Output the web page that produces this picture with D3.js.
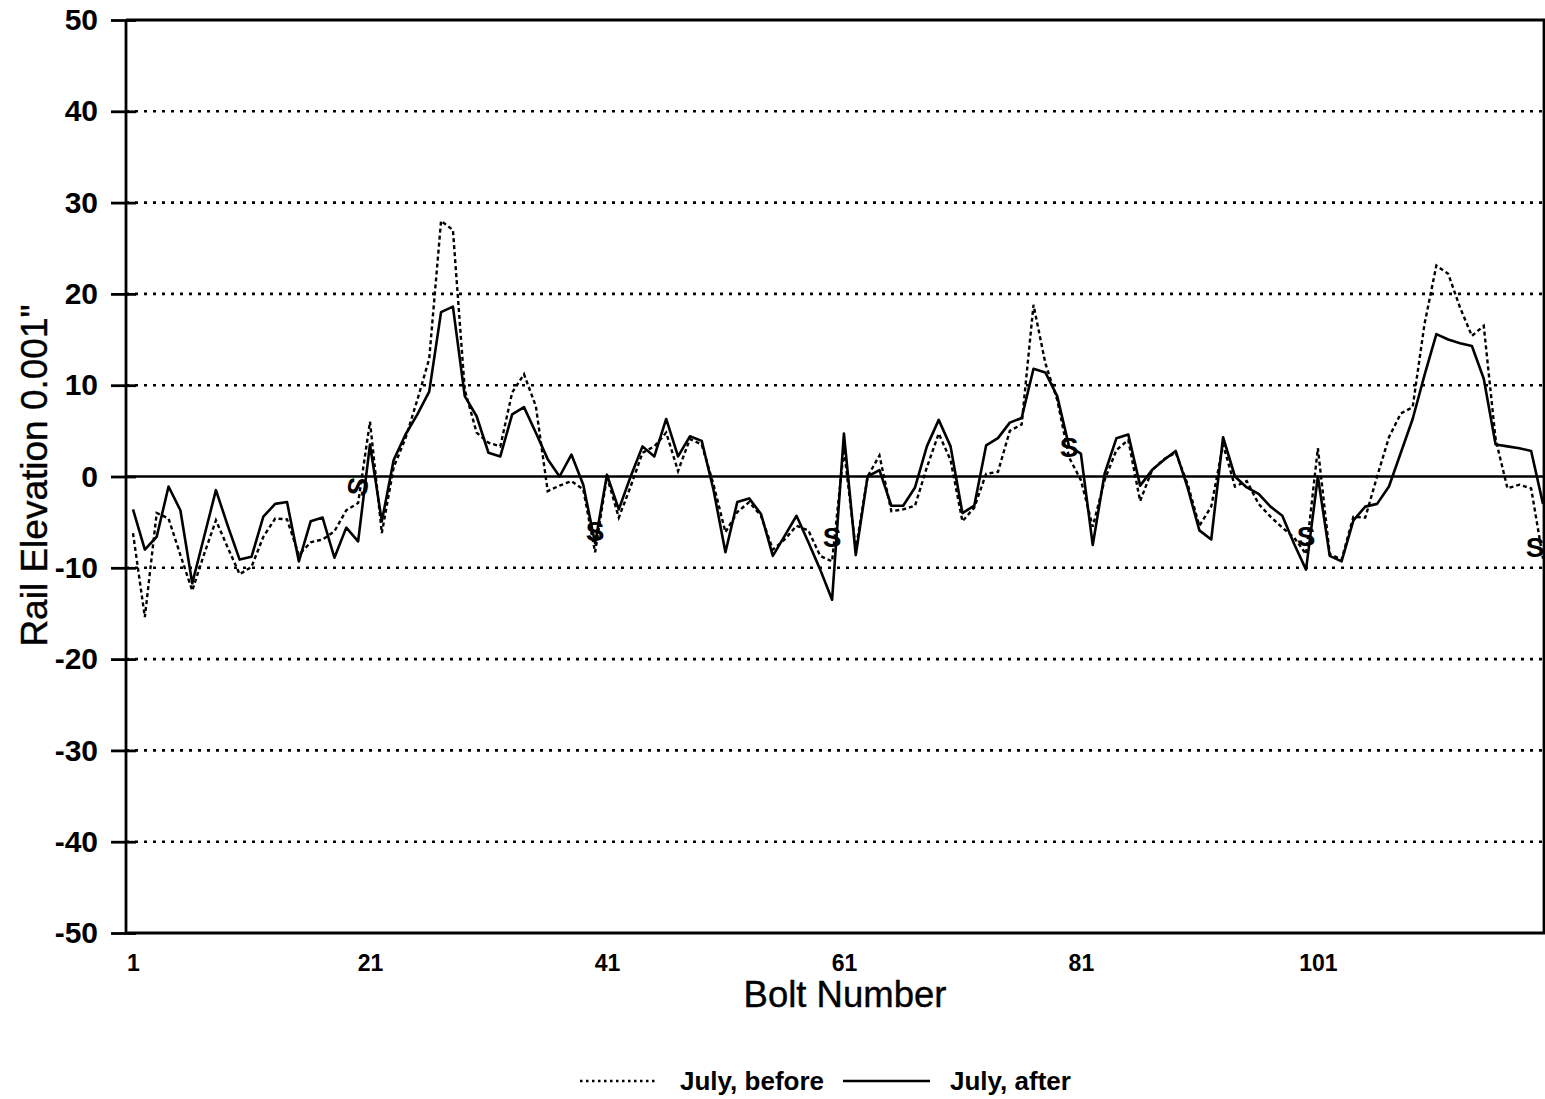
<!DOCTYPE html>
<html>
<head>
<meta charset="utf-8">
<script src="https://cdn.jsdelivr.net/npm/d3@7"></script>
<style>
  body { margin: 0; background: #fff; }
  svg { display: block; font-family: Arial, "Liberation Sans", sans-serif; }
</style>
</head>
<body>
<div class="canvas"></div>
<script>
// Bolt numbers along the rail
const bolts = d3.range(1, 121);

// Rail elevation (0.001"), one value per bolt
const julyBefore = [
  -6.2, -15.4, -4.0, -4.6, -8.6, -12.5, -8.5, -4.8, -7.8, -10.7,
  -9.9, -6.6, -4.6, -4.7, -8.6, -7.2, -6.9, -6.0, -3.7, -2.9,
  6.0, -6.2, 1.0, 4.2, 8.4, 12.9, 28.0, 27.0, 9.5, 4.8,
  3.7, 3.3, 9.2, 11.2, 7.7, -1.6, -1.0, -0.5, -1.4, -8.3,
  0.0, -4.5, -1.1, 2.6, 3.3, 4.8, 0.6, 4.1, 3.5, -0.9,
  -6.1, -3.9, -2.8, -4.3, -8.0, -6.9, -5.4, -5.9, -8.7, -9.3,
  3.0, -8.0, 0.0, 2.3, -3.8, -3.6, -3.2, 1.0, 4.7, 1.8,
  -4.9, -3.4, 0.3, 0.5, 5.0, 5.7, 18.8, 12.4, 8.4, 2.1,
  -0.4, -5.5, -0.4, 2.9, 4.0, -2.7, 0.7, 1.9, 2.6, -0.8,
  -5.4, -3.3, 3.5, -1.1, -0.5, -3.0, -4.4, -5.6, -6.7, -8.5,
  3.1, -8.5, -9.1, -4.4, -4.5, 0.0, 4.3, 6.9, 7.6, 16.7,
  23.1, 22.2, 18.5, 15.4, 16.5, 4.1, -1.3, -0.9, -1.3, -9.0
];

const julyAfter = [
  -3.6, -8.0, -6.6, -1.1, -3.7, -11.7, -6.6, -1.5, -5.4, -9.1,
  -8.8, -4.4, -3.0, -2.8, -9.3, -4.9, -4.5, -8.9, -5.6, -7.1,
  3.5, -4.9, 1.8, 4.6, 6.8, 9.3, 18.0, 18.6, 8.8, 6.6,
  2.6, 2.2, 6.8, 7.6, 4.8, 1.9, 0.0, 2.4, -0.9, -7.3,
  0.2, -3.6, 0.0, 3.3, 2.2, 6.3, 2.2, 4.4, 3.9, -1.5,
  -8.3, -2.8, -2.4, -4.1, -8.7, -6.5, -4.3, -7.2, -10.2, -13.5,
  4.7, -8.6, 0.0, 0.7, -3.2, -3.2, -1.2, 3.3, 6.2, 3.3,
  -4.0, -3.2, 3.4, 4.2, 5.9, 6.4, 11.8, 11.4, 8.8, 3.3,
  2.5, -7.5, 0.3, 4.2, 4.6, -1.0, 0.7, 1.8, 2.8, -1.2,
  -5.9, -6.9, 4.3, 0.0, -1.2, -1.9, -3.3, -4.3, -7.4, -10.2,
  0.0, -8.7, -9.3, -4.8, -3.3, -3.0, -1.1, 2.6, 6.3, 11.1,
  15.6, 15.0, 14.6, 14.3, 10.7, 3.5, 3.3, 3.1, 2.8, -3.0
];

// "S" markers (splice bolts) and where their labels sit
const spliceBolts = [20, 40, 60, 80, 100, 120];
const spliceLabelY = [-1.1, -6.0, -6.7, 3.2, -6.6, -7.8];

// Axis ticks
const xTicks = [1, 21, 41, 61, 81, 101];
const yTicks = [50, 40, 30, 20, 10, 0, -10, -20, -30, -40, -50];
const gridValues = [40, 30, 20, 10, -10, -20, -30, -40];

const seriesNames = ["July, before", "July, after"];

const dims = { width: 1545, height: 1099 };
const plot = { left: 126, right: 1545, top: 20, bottom: 933 };

const svg = d3
  .select(".canvas")
  .append("svg")
  .attr("width", dims.width)
  .attr("height", dims.height);

svg.append("rect")
  .attr("width", dims.width)
  .attr("height", dims.height)
  .attr("fill", "#fff");

// Scales
const x = d3.scaleLinear().domain([1, 120]).range([133, 1543]);
const y = d3.scaleLinear().domain([-50, 50]).range([plot.bottom, plot.top]);

// Dotted gridlines
svg.append("g")
  .selectAll("line")
  .data(gridValues)
  .enter()
  .append("line")
  .attr("x1", plot.left)
  .attr("x2", plot.right)
  .attr("y1", (d) => y(d))
  .attr("y2", (d) => y(d))
  .attr("stroke", "#000")
  .attr("stroke-width", 2.6)
  .attr("stroke-dasharray", "3,6");

// Zero line
svg.append("line")
  .attr("x1", plot.left)
  .attr("x2", plot.right)
  .attr("y1", y(0))
  .attr("y2", y(0))
  .attr("stroke", "#000")
  .attr("stroke-width", 2.6);

// Frame: top, right and bottom
svg.append("path")
  .attr("d", `M${plot.left},${plot.top}H${plot.right - 1}V${plot.bottom}M${plot.left},${plot.bottom}H${plot.right}`)
  .attr("fill", "none")
  .attr("stroke", "#000")
  .attr("stroke-width", 2.8);

// Y axis (plain hyphen for negatives, as in the original)
const yAxis = d3.axisLeft(y)
  .tickValues(yTicks)
  .tickFormat((d) => String(d))
  .tickSize(14)
  .tickPadding(14);
const yAxisG = svg.append("g")
  .attr("transform", `translate(${plot.left},0)`)
  .call(yAxis);
yAxisG.select(".domain").remove();
yAxisG.selectAll(".tick line").attr("x2", -15).attr("x1", 10).attr("stroke-width", 2.8);
yAxisG.selectAll(".tick text")
  .attr("font-size", 30)
  .attr("font-weight", "bold")
  .attr("font-family", "Arial, 'Liberation Sans', sans-serif")
  .attr("fill", "#000");
svg.append("line")
  .attr("x1", plot.left)
  .attr("x2", plot.left)
  .attr("y1", plot.top)
  .attr("y2", plot.bottom)
  .attr("stroke", "#000")
  .attr("stroke-width", 2.8);

// X axis
const xAxis = d3.axisBottom(x).tickValues(xTicks).tickSize(0).tickPadding(22);
const xAxisG = svg.append("g")
  .attr("transform", `translate(0,${plot.bottom})`)
  .call(xAxis);
xAxisG.select(".domain").remove();
xAxisG.selectAll(".tick text")
  .attr("font-size", 23)
  .attr("font-weight", "bold")
  .attr("font-family", "Arial, 'Liberation Sans', sans-serif")
  .attr("fill", "#000");

// Axis titles
svg.append("text")
  .attr("x", 845)
  .attr("y", 1007)
  .attr("text-anchor", "middle")
  .attr("font-size", 36.5)
  .attr("stroke", "#000")
  .attr("stroke-width", 0.4)
  .text("Bolt Number");

svg.append("text")
  .attr("transform", `translate(47,${y(0) - 1}) rotate(-90)`)
  .attr("text-anchor", "middle")
  .attr("font-size", 37)
  .attr("stroke", "#000")
  .attr("stroke-width", 0.4)
  .text("Rail Elevation 0.001\"");

// Data lines
const line = d3.line()
  .x((d, i) => x(bolts[i]))
  .y((d) => y(d));

svg.append("path")
  .datum(julyBefore)
  .attr("d", line)
  .attr("fill", "none")
  .attr("stroke", "#000")
  .attr("stroke-width", 2.4)
  .attr("stroke-dasharray", "4,3");

svg.append("path")
  .datum(julyAfter)
  .attr("d", line)
  .attr("fill", "none")
  .attr("stroke", "#000")
  .attr("stroke-width", 2.6)
  .attr("stroke-linejoin", "round");

// Splice markers (last one kept just inside the page edge)
svg.append("g")
  .selectAll("text")
  .data(spliceBolts)
  .enter()
  .append("text")
  .attr("transform", (d, i) =>
    `translate(${Math.min(x(d), plot.right - 10)},${y(spliceLabelY[i])})` +
    (i === 0 ? " rotate(-80)" : ""))
  .attr("text-anchor", "middle")
  .attr("dominant-baseline", "central")
  .attr("font-size", 28)
  .attr("font-weight", "bold")
  .text("S");

// Legend
const legend = svg.append("g").attr("font-size", 26).attr("font-weight", "bold");
legend.append("line")
  .attr("x1", 580).attr("x2", 658)
  .attr("y1", 1081).attr("y2", 1081)
  .attr("stroke", "#000")
  .attr("stroke-width", 2.6)
  .attr("stroke-dasharray", "2.5,3.5");
legend.append("text").attr("x", 680).attr("y", 1090).text(seriesNames[0]);
legend.append("line")
  .attr("x1", 843).attr("x2", 930)
  .attr("y1", 1081).attr("y2", 1081)
  .attr("stroke", "#000")
  .attr("stroke-width", 2.6);
legend.append("text").attr("x", 950).attr("y", 1090).text(seriesNames[1]);
</script>
</body>
</html>
